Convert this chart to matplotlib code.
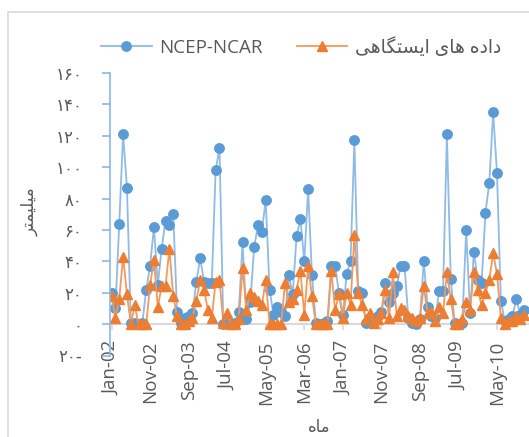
import matplotlib.pyplot as plt
import numpy as np
from matplotlib.patches import Rectangle

plt.rcParams['font.family'] = ['Open Sans', 'DejaVu Sans']

# monthly precipitation (mm), Jan-2002 .. Dec-2010
ncep = [
    20, 10, 64, 121, 87, 1, 1, 0, 1, 22,
    37, 62, 25, 48, 66, 63, 70, 8, 1, 4,
    5, 7, 27, 42, 27, 26, 26, 98, 112, 0,
    1, 0, 1, 8, 52, 3, 14, 49, 63, 59,
    79, 22, 6, 11, 8, 5, 31, 19, 56, 67,
    40, 86, 31, 1, 0, 1, 2, 37, 37, 20,
    6, 32, 40, 117, 21, 20, 1, 3, 2, 5,
    8, 26, 14, 20, 24, 37, 37, 4, 1, 0,
    3, 40, 11, 5, 4, 21, 21, 121, 29, 1,
    0, 1, 60, 7, 46, 28, 26, 71, 90, 135,
    96, 15, 2, 3, 5, 16, 6, 9]
station = [
    18, 4, 16, 43, 19, 0, 12, 0, 0, 0,
    25, 41, 11, 24, 24, 48, 18, 5, 0, 0,
    2, 4, 15, 28, 22, 9, 4, 27, 28, 1,
    7, 0, 0, 3, 36, 9, 20, 17, 15, 12,
    28, 0, 0, 0, 0, 26, 14, 16, 22, 34,
    6, 37, 18, 0, 0, 0, 0, 34, 9, 19,
    4, 20, 12, 57, 20, 12, 3, 7, 1, 3,
    7, 22, 4, 33, 5, 10, 9, 5, 4, 2,
    4, 24, 7, 8, 2, 11, 7, 33, 16, 0,
    0, 3, 14, 9, 33, 22, 12, 20, 28, 45,
    32, 4, 0, 2, 2, 5, 3, 6]

x_tick_labels = ["Jan-02", "Nov-02", "Sep-03", "Jul-04", "May-05", "Mar-06",
                 "Jan-07", "Nov-07", "Sep-08", "Jul-09", "May-10"]
y_ticks = [-20, 0, 20, 40, 60, 80, 100, 120, 140, 160]
y_tick_labels = ["\u06f2\u06f0-", "\u06f0", "\u06f2\u06f0", "\u06f4\u06f0", "\u06f6\u06f0",
                 "\u06f8\u06f0", "\u06f1\u06f0\u06f0", "\u06f1\u06f2\u06f0",
                 "\u06f1\u06f4\u06f0", "\u06f1\u06f6\u06f0"]

# Persian strings in visual order with presentation forms (no bidi shaping in mpl)
station_name = "\uFBFD\uFEEB\uFE8E\uFB95\uFE98\uFEB4\uFBFE\uFE8D \uFBFC\uFE8E\uFEEB \uFEE9\uFEA9\uFE8D\uFEA9"
y_title = "\uFEAE\uFE98\uFEE4\uFBFF\uFEE0\uFBFF\uFEE3"
x_title = "\uFEE9\uFE8E\uFEE3"

month = np.arange(len(ncep))
txt = '#595959'

fig = plt.figure(figsize=(5.29, 4.37), dpi=100)
W, H = 529, 437
ax = fig.add_axes([110 / W, 1 - 355.5 / H, (W - 110) / W, (355.5 - 73) / H])

ax.plot(month, ncep, color='#8FBBE6', lw=1.3, marker='o', markersize=6.8,
        markerfacecolor='#5B9BD5', markeredgecolor='#5B9BD5', label='NCEP-NCAR')
ax.plot(month, station, color='#F29A5E', lw=1.3, marker='^', markersize=7,
        markerfacecolor='#ED7D31', markeredgecolor='#ED7D31', label=station_name)

ax.set_xlim(-0.4, 108.3)
ax.set_ylim(-20, 160)

ax.spines['top'].set_visible(False)
ax.spines['right'].set_visible(False)
ax.spines['left'].set_color('#8AB8E6')
ax.spines['left'].set_linewidth(1.2)
ax.spines['bottom'].set_position(('data', 0))
ax.spines['bottom'].set_color('#D9D9D9')
ax.spines['bottom'].set_linewidth(1.5)
ax.spines['bottom'].set_zorder(0)

ax.set_yticks(y_ticks)
ax.set_yticklabels(y_tick_labels, fontsize=12, color=txt, family='DejaVu Sans')
ax.tick_params(axis='y', length=6, width=1.2, color='#8AB8E6', pad=14)

ax.set_xticks(month[::10])
ax.set_xticklabels(x_tick_labels, rotation=90, fontsize=13.5, color=txt)
ax.tick_params(axis='x', length=4, width=1.2, color='#D9D9D9', pad=8)

fig.text(319 / W, 1 - 427 / H, x_title, ha='center', va='center', fontsize=12,
         color=txt, family='DejaVu Sans')
fig.text(30 / W, 1 - 212 / H, y_title, ha='center', va='center', fontsize=12,
         color=txt, rotation=90, family='DejaVu Sans')

fig.legend(loc='center', bbox_to_anchor=(301 / W, 1 - 47 / H), ncol=2, frameon=False,
           fontsize=13.5, handlelength=2.7, handletextpad=0.4, columnspacing=1.8,
           labelcolor=txt)

fig.add_artist(Rectangle((8 / W, -0.1), 2, 1.1 - 12 / H, transform=fig.transFigure,
                         fill=False, edgecolor='#D9D9D9', lw=1.2))

fig.savefig('out.png', dpi=100)
